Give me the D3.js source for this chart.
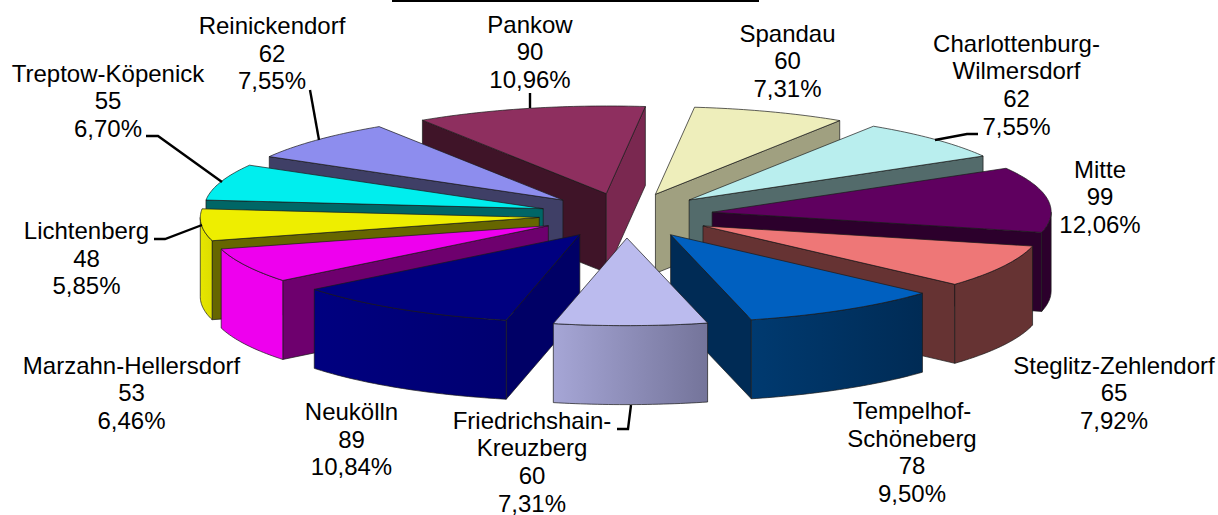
<!DOCTYPE html>
<html>
<head>
<meta charset="utf-8">
<script src="https://cdn.jsdelivr.net/npm/d3@7"></script>
<style>
    html, body { margin: 0; padding: 0; background: #fff; }
    text { font-family: "Liberation Sans", Arial, sans-serif; font-size: 24px; fill: #000; text-anchor: middle; }
</style>
</head>
<body>
<svg id="chart" width="1218" height="515"></svg>
<script>
// Bezirke, clockwise starting at the first slice right of 12 o'clock
var names = [
    ["Spandau"],
    ["Charlottenburg-", "Wilmersdorf"],
    ["Mitte"],
    ["Steglitz-Zehlendorf"],
    ["Tempelhof-", "Schöneberg"],
    ["Friedrichshain-", "Kreuzberg"],
    ["Neukölln"],
    ["Marzahn-Hellersdorf"],
    ["Lichtenberg"],
    ["Treptow-Köpenick"],
    ["Reinickendorf"],
    ["Pankow"]
];
var values = [60, 62, 99, 65, 78, 60, 89, 53, 48, 55, 62, 90];
var percents = ["7,31%", "7,55%", "12,06%", "7,92%", "9,50%", "7,31%", "10,84%", "6,46%", "5,85%", "6,70%", "7,55%", "10,96%"];

// colours of the faces
var topColors = ["#eeeebb", "#b9eeee", "#5f005f", "#ee7777", "#0060c0", "#bbbbee", "#000080", "#ee00ee", "#eeee00", "#00eeee", "#8d8dee", "#8e2f5f"];
var startCutColors = ["#a0a080", "#536b6b", "#2c002c", "#663333", "#002b55", "#555570", "#000066", "#6e006e", "#666600", "#006666", "#3f3f66", "#3f1428"];
var endCutColors = ["#a0a080", "#536b6b", "#2c002c", "#663333", "#002b55", "#555570", "#000066", "#6e006e", "#666600", "#006666", "#3f3f66", "#7a2850"];
var rimLeft = ["#a0a080", "#536b6b", "#2c002c", "#663333", "#003a70", "#a6a6d6", "#000080", "#ee00ee", "#e6e600", "#006666", "#3f3f66", "#7a2850"];
var rimRight = ["#a0a080", "#536b6b", "#2c002c", "#663333", "#002b55", "#74749a", "#000070", "#ee00ee", "#dddd00", "#006666", "#3f3f66", "#7a2850"];

// label placement: centre x and first baseline of each text block
var labelX = [787.5, 1016.5, 1100, 1114, 912, 532, 351.5, 131.5, 86.5, 108, 272, 530];
var labelY = [41.5, 51.5, 177.5, 373.5, 419, 428.5, 420, 373.5, 239, 81.5, 34, 32.5];
var lineStep = 27.7;

// leader lines, same order as the slices (empty = no leader)
var leaders = [
    [],
    [[935, 140], [967, 134], [978, 134]],
    [],
    [],
    [],
    [[631, 405], [628, 429], [617, 429]],
    [],
    [],
    [[154, 239], [165, 239], [202, 225]],
    [[146, 136], [158, 136], [222, 182]],
    [[310, 90], [319, 140]],
    [[530, 93], [530, 108]]
];

var svg = d3.select("#chart");

// pie geometry
var cx = 626, cy = 215.5,
    radius = 339,
    tilt = 0.2585,      // squash of the circle on screen
    explode = 87,       // how far every slice is pulled out
    depth = 79,         // height of the cake
    shear = 0.015,      // the source picture leans a little: back goes right, front goes left
    firstAngle = 6.4 * Math.PI / 180;

var slices = d3.pie().sort(null)
    .startAngle(firstAngle)
    .endAngle(firstAngle + 2 * Math.PI)(values);

// unit circle -> screen offsets
var xScale = d3.scaleLinear().domain([-1, 1]).range([-radius, radius]);
var yScale = d3.scaleLinear().domain([-1, 1]).range([-radius * tilt, radius * tilt]);
var line = d3.line();

// offset from the pie centre -> page, h = how far down the cake wall
function project(x, y, h) {
    return [cx + x - shear * y, cy + y + h];
}

function apexOffset(d) {
    var mid = (d.startAngle + d.endAngle) / 2,
        k = explode / radius;
    return [xScale(Math.sin(mid) * k), -yScale(Math.cos(mid) * k)];
}

function apex(d, h) {
    var c = apexOffset(d);
    return project(c[0], c[1], h || 0);
}

function rimPoint(d, a, h) {
    var c = apexOffset(d);
    return project(c[0] + xScale(Math.sin(a)), c[1] - yScale(Math.cos(a)), h || 0);
}

function arcPoints(d, a0, a1, h) {
    var n = Math.max(2, Math.ceil((a1 - a0) * 60));
    return d3.range(n + 1).map(function (i) {
        return rimPoint(d, a0 + (a1 - a0) * i / n, h);
    });
}

function cutFace(d, a) {
    return line([apex(d), rimPoint(d, a), rimPoint(d, a, depth), apex(d, depth)]) + "Z";
}

var defs = svg.append("defs");

// back slices first, painter style
var order = d3.range(slices.length).sort(function (a, b) {
    return apex(slices[a])[1] - apex(slices[b])[1];
});

var groups = svg.selectAll("g.slice").data(order).enter().append("g")
    .attr("class", "slice")
    .attr("stroke", "#1a1a1a")
    .attr("stroke-width", 0.7)
    .attr("stroke-linejoin", "round");

groups.each(function (i) {
    var d = slices[i], g = d3.select(this);

    // inner cut faces: only those turned towards the viewer
    if (Math.sin(d.startAngle) < 0) {
        g.append("path").attr("d", cutFace(d, d.startAngle)).attr("fill", startCutColors[i]);
    }
    if (Math.sin(d.endAngle) > 0) {
        g.append("path").attr("d", cutFace(d, d.endAngle)).attr("fill", endCutColors[i]);
    }

    // outer wall, the front half of the circle only
    // (angles may run past 360, so test the range shifted by a full turn too)
    [0, 2 * Math.PI].forEach(function (shift) {
        var a0 = Math.max(d.startAngle, Math.PI / 2 + shift),
            a1 = Math.min(d.endAngle, 3 * Math.PI / 2 + shift);
        if (a1 <= a0) return;
        var top = arcPoints(d, a0, a1),
            bottom = arcPoints(d, a0, a1, depth).reverse(),
            xs = top.map(function (p) { return p[0]; }),
            id = "rim" + i,
            grad = defs.append("linearGradient").attr("id", id)
                .attr("gradientUnits", "userSpaceOnUse")
                .attr("x1", d3.min(xs)).attr("x2", d3.max(xs))
                .attr("y1", 0).attr("y2", 0);
        // left/right on screen
        grad.append("stop").attr("offset", 0).attr("stop-color", rimLeft[i]);
        grad.append("stop").attr("offset", 1).attr("stop-color", rimRight[i]);
        g.append("path")
            .attr("d", line(top.concat(bottom)) + "Z")
            .attr("fill", "url(#" + id + ")");
    });

    // top face
    var topPath = [apex(d)].concat(arcPoints(d, d.startAngle, d.endAngle));
    g.append("path").attr("d", line(topPath) + "Z").attr("fill", topColors[i]);
});

// leaders
svg.selectAll("path.leader").data(leaders.filter(function (l) { return l.length; }))
    .enter().append("path")
    .attr("class", "leader")
    .attr("d", line)
    .attr("fill", "none")
    .attr("stroke", "#000")
    .attr("stroke-width", 2.4);

// title underline, the title itself is cut off in the picture
svg.append("line")
    .attr("x1", 392).attr("x2", 759)
    .attr("y1", 1).attr("y2", 1)
    .attr("stroke", "#000").attr("stroke-width", 2);

// labels
var labels = svg.selectAll("text.label").data(values).enter().append("text")
    .attr("class", "label")
    .attr("y", function (d, i) { return labelY[i]; });

labels.each(function (v, i) {
    var rows = names[i].concat([String(v), percents[i]]);
    d3.select(this).selectAll("tspan").data(rows).enter().append("tspan")
        .attr("x", labelX[i])
        .attr("dy", function (r, j) { return j ? lineStep : 0; })
        .text(function (r) { return r; });
});
</script>
</body>
</html>
